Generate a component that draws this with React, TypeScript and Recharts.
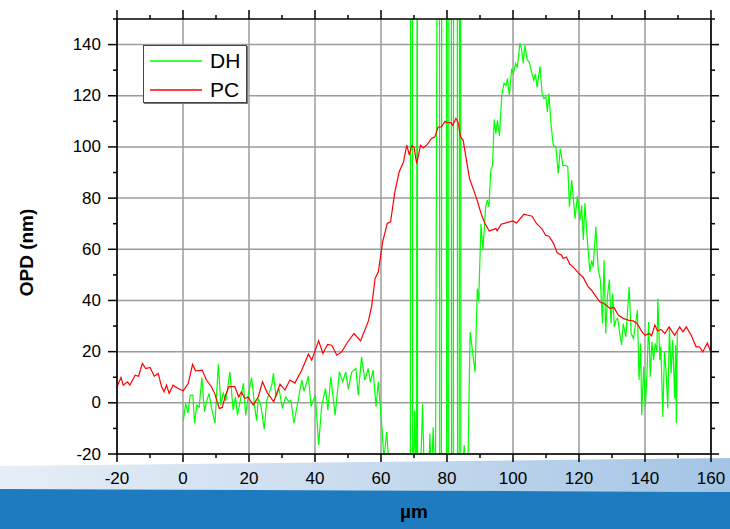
import React from 'react';
import { LineChart, Line, XAxis, YAxis, CartesianGrid, Legend, Label } from 'recharts';

const FONT = '"Liberation Sans", Arial, sans-serif';

const xTicks = [-20, -10, 0, 10, 20, 30, 40, 50, 60, 70, 80, 90, 100, 110, 120, 130, 140, 150, 160];
const yTicks = [-20, -10, 0, 10, 20, 30, 40, 50, 60, 70, 80, 90, 100, 110, 120, 130, 140, 150];
const xGrid = [-20, 0, 20, 40, 60, 80, 100, 120, 140, 160];
const yGrid = [-20, 0, 20, 40, 60, 80, 100, 120, 140];
const xDomain = [-20, 160];
const yDomain = [-20, 150];

const seriesNames = ['DH', 'PC'];

const pcX = [-20, -18.8, -18.1, -16.8, -16.1, -14.5, -13.5, -12.3, -11.3, -10, -8.7, -7.5, -6.5, -5.7, -5, -4.2, -3, -1.5, 0.1, 1.6, 2.9, 3.8, 5.8, 7.1, 8.6, 9.6, 11, 11.9, 12.9, 13.9, 15.7, 16.9, 17.7, 18.7, 19.7, 21.3, 22.8, 24.1, 25.5, 27.5, 29.4, 30.9, 32.4, 33.9, 36, 38, 39, 41.1, 42.4, 43.8, 45.1, 46.6, 48.1, 49.6, 51.8, 53.8, 56.2, 57.2, 58.2, 59.2, 60.5, 61.9, 62.9, 64.2, 65.5, 66.8, 67.8, 68.6, 69.3, 70, 70.8, 72, 72.8, 74, 75.3, 76.3, 77.3, 78.3, 79.4, 80.1, 81.2, 81.7, 82.7, 83.4, 84.1, 84.9, 86.8, 88.8, 90.5, 91.5, 92.8, 94.8, 95.2, 96.4, 97.9, 99.9, 101.1, 103.3, 104.6, 105.8, 107.1, 108.7, 109.9, 110.9, 112.2, 113.4, 114.7, 115.2, 116.2, 117.2, 118.2, 119.8, 121.3, 122.8, 123.8, 125.3, 126.3, 127.8, 129.4, 130.6, 131.9, 133.4, 134.9, 136.4, 137.6, 138.9, 140, 141.3, 142, 143, 143.8, 144.8, 146, 147.3, 149, 150.5, 151.5, 152.5, 154, 155.5, 156.5, 157.5, 158.9, 159.9];
const pcY = [6.3, 9.9, 6.9, 8.2, 6.9, 10.8, 10.4, 15.4, 13.4, 13.8, 10.4, 11.5, 6.3, 4.3, 6.9, 3.7, 6.9, 5.6, 4.7, 7.6, 15, 12.5, 12.8, 8.9, 6.3, 3.7, -2.2, -1.8, 3, 6.3, 6.3, 2.3, 4.3, 1.7, 2.3, -0.9, 2.3, 8.2, 4, 0.4, 7.3, 5, 8.9, 7.7, 12.8, 19, 16.7, 24.2, 19.3, 22.8, 22.5, 18.6, 19.9, 23.2, 27.1, 24.2, 32, 38, 48.6, 51.2, 62.9, 70.1, 70.7, 82.4, 90.2, 94.1, 100.7, 96.8, 100.4, 100, 93.5, 100.7, 99.6, 100.9, 103.3, 103.9, 107.8, 107.8, 110, 109.5, 109.5, 108.5, 111.1, 109.5, 103.9, 102.6, 87.7, 80.5, 73.3, 70.1, 67.1, 68.1, 67.2, 69.8, 70.3, 71.1, 70.3, 73.7, 73.3, 72.9, 70.1, 68.1, 65.5, 65.1, 62.5, 58.6, 57.7, 56.4, 57, 54.2, 53.1, 50.8, 49, 45.3, 44, 41.2, 39.5, 38.6, 36.9, 37.3, 34.3, 33, 32.3, 32, 31, 28.1, 26.4, 27.1, 26.2, 30.4, 28.1, 28.7, 27.1, 29.7, 26.4, 29.7, 27.7, 29.7, 26.4, 21.9, 21.9, 19.9, 23.4, 19.9];

const dhX = [0.1, 0.8, 1.5, 2.2, 3.0, 3.5, 4.2, 4.9, 5.7, 6.5, 7.1, 7.9, 8.6, 9.7, 10.7, 11.5, 12.2, 13.0, 14.2, 15.2, 15.9, 16.5, 17.3, 18.3, 19.0, 19.8, 20.8, 21.8, 22.3, 22.8, 23.6, 24.6, 25.4, 26.9, 27.4, 28.2, 29.1, 30.1, 31.1, 32, 32.7, 33.6, 34.9, 36, 36.7, 38, 38.8, 40.1, 41.1, 42, 43.2, 43.9, 44.8, 46.1, 47.4, 48.4, 49.3, 50.1, 51.1, 52.4, 53.1, 54.1, 55.1, 56.1, 56.8, 57.6, 58.5, 59.2, 60.2, 60.9, 61.7, 62.4, 63.2, 64.5, 65.8, 67, 68.2, 68.9, 69.0, 69.5, 69.6, 70.2, 70.7, 71.0, 71.1, 71.8, 72.6, 73.3, 74.2, 74.8, 75.3, 75.8, 76.5, 77.1, 77.7, 77.8, 78.3, 78.4, 79.8, 79.9, 80.5, 80.6, 81.3, 81.4, 81.9, 82.0, 83.1, 83.2, 83.7, 83.8, 84.1, 84.2, 85.2, 86.2, 87, 88.5, 89.2, 89.6, 90.3, 90.9, 91.7, 92.2, 92.7, 93.3, 93.8, 94.3, 94.8, 95.3, 95.9, 96.6, 97.3, 97.9, 98.3, 98.9, 99.6, 100.1, 100.8, 101.3, 102.1, 102.6, 103.1, 103.6, 104.3, 104.9, 105.6, 106.3, 106.8, 107.3, 108.2, 108.8, 109.4, 110, 110.4, 110.9, 111.5, 112.2, 113, 113.7, 114.3, 115.1, 116, 116.6, 117.1, 117.8, 118.8, 119.5, 120.3, 120.8, 121.3, 121.8, 122.3, 123.3, 123.8, 124.3, 125.1, 125.8, 126.5, 127.1, 127.6, 128.1, 128.6, 129.2, 129.7, 130.2, 130.7, 131.2, 131.7, 132.2, 132.9, 133.4, 134.2, 135.2, 135.8, 136.5, 137, 137.7, 138.2, 138.7, 139, 139.6, 140.1, 140.6, 141.1, 141.6, 142.1, 142.6, 143.1, 143.6, 143.9, 144.5, 144.8, 145.4, 145.9, 146.4, 146.9, 147.4, 147.9, 148.4, 149, 149.3, 149.5, 149.8];
const dhY = [-7, -0.2, -3.9, 3, 3, -8, -0.9, -1.8, 9.9, -3.5, 0.4, 3.7, -1.8, -8, 15.1, -0.9, 3.7, 0.8, 12.1, -2.9, 2.3, -4.8, 0.4, 7.6, -4.8, 3, 9.9, -2.2, -7, 1.7, -0.9, -10.4, 1, 6.9, 11.5, 2.3, 5.6, -2.2, 2.3, 0.5, 1, -8, 1, 8.9, 4.5, 10.4, -1.5, 3, -16.5, -1.5, 5.6, -2.9, 10.2, -4.8, 12.1, 8.2, 12.1, 5.2, 12, 13.4, 3, 18, 8.9, 13.4, 8, 12.8, -1.5, 8.2, -8, -22, -11.3, -24, -35, -40, -30, -45, -35, -40, 220, 220, -40, -3, -40, 220, -40, -35, -0.5, -40, -45, -12, -30, -9.6, -40, 220, 220, -40, -40, 220, 220, -40, -40, 220, 220, -40, -40, 220, 220, -40, -40, 220, 220, -40, -16.5, -35, 27.7, 12.1, 44.7, 39.5, 70, 59.6, 76.6, 79.2, 76.6, 90.9, 92.8, 110.7, 105.2, 110.4, 104.2, 120.2, 125, 124.1, 126.7, 120.2, 130.6, 128.7, 132.6, 131, 140.6, 138.4, 132.6, 139.7, 134.1, 133.2, 129.3, 126.1, 128.5, 123.3, 131.5, 120.9, 118.9, 119.5, 113.7, 120.9, 109.1, 100.7, 100, 89.6, 99.4, 92.8, 92.8, 92.2, 76.6, 87, 72, 80.7, 71.4, 77.2, 63.6, 78.1, 67.5, 51.2, 55.7, 53.1, 68.8, 52.5, 47.9, 31, 55.7, 27.1, 41.4, 48.2, 31, 42.7, 29.7, 32.3, 33, 28.4, 22.5, 31, 25.8, 45.3, 27.1, 25.2, 29.7, 36.2, 8.9, 23.2, -4.8, 14.1, -1.5, 11.5, 31.6, 10.2, 23.8, 16.7, 23.2, 20, 40.8, 16.7, 22, -5.5, 20, 12.1, -2.2, 29.1, 11.5, 24.5, 1.7, 22.5, -8, 27.7];

const pcData = pcX.map((x, i) => ({ x, v: pcY[i] }));
const dhData = dhX.map((x, i) => ({ x, v: dhY[i] }));

const isMajor = (v: number) => Math.abs(v % 20) === 0;

const BottomTick = (props: any) => {
  const { x, y, payload } = props;
  const major = isMajor(payload.value);
  return (
    <g>
      <line x1={x} x2={x} y1={y} y2={y + (major ? 8 : 4)} stroke="#000" strokeWidth={1.5} />
      {major && (
        <text x={x} y={y + 24} textAnchor="middle" dominantBaseline="central" fontSize={17} fontFamily={FONT} fill="#000">
          {payload.value}
        </text>
      )}
    </g>
  );
};

const TopTick = (props: any) => {
  const { x, y, payload } = props;
  const major = isMajor(payload.value);
  return <line x1={x} x2={x} y1={y} y2={y - (major ? 9 : 4)} stroke="#000" strokeWidth={1.5} />;
};

const LeftTick = (props: any) => {
  const { x, y, payload } = props;
  const major = isMajor(payload.value);
  return (
    <g>
      <line x1={x} x2={x - (major ? 9 : 4)} y1={y} y2={y} stroke="#000" strokeWidth={1.5} />
      {major && (
        <text x={x - 16} y={y} textAnchor="end" dominantBaseline="central" fontSize={17} fontFamily={FONT} fill="#000">
          {payload.value}
        </text>
      )}
    </g>
  );
};

const RightTick = (props: any) => {
  const { x, y, payload } = props;
  const major = isMajor(payload.value);
  return <line x1={x} x2={x + (major ? 8 : 4)} y1={y} y2={y} stroke="#000" strokeWidth={1.5} />;
};

const YTitle = (props: any) => {
  const vb = props.viewBox;
  const cx = vb.x + 26;
  const cy = vb.y + vb.height / 2 + 16;
  return (
    <text x={cx} y={cy} transform={`rotate(-90 ${cx} ${cy})`} textAnchor="middle" dominantBaseline="central" fontSize={19} fontWeight="bold" fontFamily={FONT} fill="#000">
      OPD (nm)
    </text>
  );
};

const XTitle = (props: any) => {
  const vb = props.viewBox;
  return (
    <text x={vb.x + vb.width / 2} y={vb.y + 57} textAnchor="middle" dominantBaseline="central" fontSize={19} fontWeight="bold" fontFamily={FONT} fill="#000">
      µm
    </text>
  );
};

const LegendBox = (props: any) => {
  const payload = props.payload || [];
  return (
    <div style={{ width: 104, height: 58, border: '1px solid #444', boxShadow: '1px 1px 0 #777', background: '#fff', boxSizing: 'border-box', position: 'relative' }}>
      {payload.map((p: any, i: number) => (
        <div key={i} style={{ position: 'absolute', left: 6, top: 3 + i * 28.6, height: 24, display: 'flex', alignItems: 'center' }}>
          <svg width={52} height={4} style={{ display: 'block' }}>
            <line x1={0} x2={52} y1={2} y2={2} stroke={p.color} strokeWidth={1.5} />
          </svg>
          <span style={{ marginLeft: 8, fontSize: 21, fontFamily: FONT, color: '#000', lineHeight: '24px' }}>{p.value}</span>
        </div>
      ))}
    </div>
  );
};

export default function App() {
  return (
    <div style={{ position: 'absolute', left: 0, top: 0, width: 730, height: 529, background: '#fff', overflow: 'hidden' }}>
      <svg width={730} height={529} style={{ position: 'absolute', left: 0, top: 0 }}>
        <defs>
          <linearGradient id="strip" x1="0" y1="0" x2="1" y2="0">
            <stop offset="0" stopColor="#e6eef7" />
            <stop offset="0.5" stopColor="#c8dbee" />
            <stop offset="1" stopColor="#a3c4e5" />
          </linearGradient>
        </defs>
        <polygon points="0,466 730,458 730,492 0,489" fill="url(#strip)" />
        <polygon points="0,489 730,492 730,529 0,529" fill="#1f7bbf" />
      </svg>
      <div style={{ position: 'absolute', left: 0, top: 0 }}>
        <LineChart width={730} height={529} margin={{ top: 12, right: 18, bottom: 0, left: 0 }}>
          <CartesianGrid stroke="#9c9c9c" strokeWidth={1.5} horizontalValues={yGrid} verticalValues={xGrid} />
          <XAxis
            xAxisId={0}
            type="number"
            dataKey="x"
            domain={xDomain}
            ticks={xTicks}
            interval={0}
            allowDataOverflow
            height={75}
            tickSize={0}
            tickMargin={0}
            tickLine={false}
            tick={<BottomTick />}
            axisLine={{ stroke: '#000', strokeWidth: 1.6 }}
          >
            <Label content={<XTitle />} />
          </XAxis>
          <XAxis
            xAxisId="top"
            orientation="top"
            type="number"
            dataKey="x"
            domain={xDomain}
            ticks={xTicks}
            interval={0}
            allowDataOverflow
            height={7}
            tickSize={0}
            tickMargin={0}
            tickLine={false}
            tick={<TopTick />}
            axisLine={{ stroke: '#000', strokeWidth: 1.6 }}
          />
          <YAxis
            yAxisId={0}
            type="number"
            domain={yDomain}
            ticks={yTicks}
            interval={0}
            allowDataOverflow
            width={117}
            tickSize={0}
            tickMargin={0}
            tickLine={false}
            tick={<LeftTick />}
            axisLine={{ stroke: '#000', strokeWidth: 1.6 }}
          >
            <Label content={<YTitle />} />
          </YAxis>
          <YAxis
            yAxisId="right"
            orientation="right"
            type="number"
            domain={yDomain}
            ticks={yTicks}
            interval={0}
            allowDataOverflow
            width={1}
            tickSize={0}
            tickMargin={0}
            tickLine={false}
            tick={<RightTick />}
            axisLine={{ stroke: '#000', strokeWidth: 1.6 }}
          />
          <Legend
            layout="horizontal"
            verticalAlign="middle"
            align="center"
            content={<LegendBox />}
            wrapperStyle={{ left: 143, top: 45, width: 104, height: 58 }}
          />
          <Line
            name={seriesNames[0]}
            data={dhData}
            dataKey="v"
            stroke="#00ff00"
            strokeWidth={1.2}
            dot={false}
            type="linear"
            isAnimationActive={false}
          />
          <Line
            name={seriesNames[1]}
            xAxisId="top"
            data={pcData}
            dataKey="v"
            stroke="#ff0000"
            strokeWidth={1.2}
            dot={false}
            type="linear"
            isAnimationActive={false}
          />
        </LineChart>
      </div>
    </div>
  );
}
